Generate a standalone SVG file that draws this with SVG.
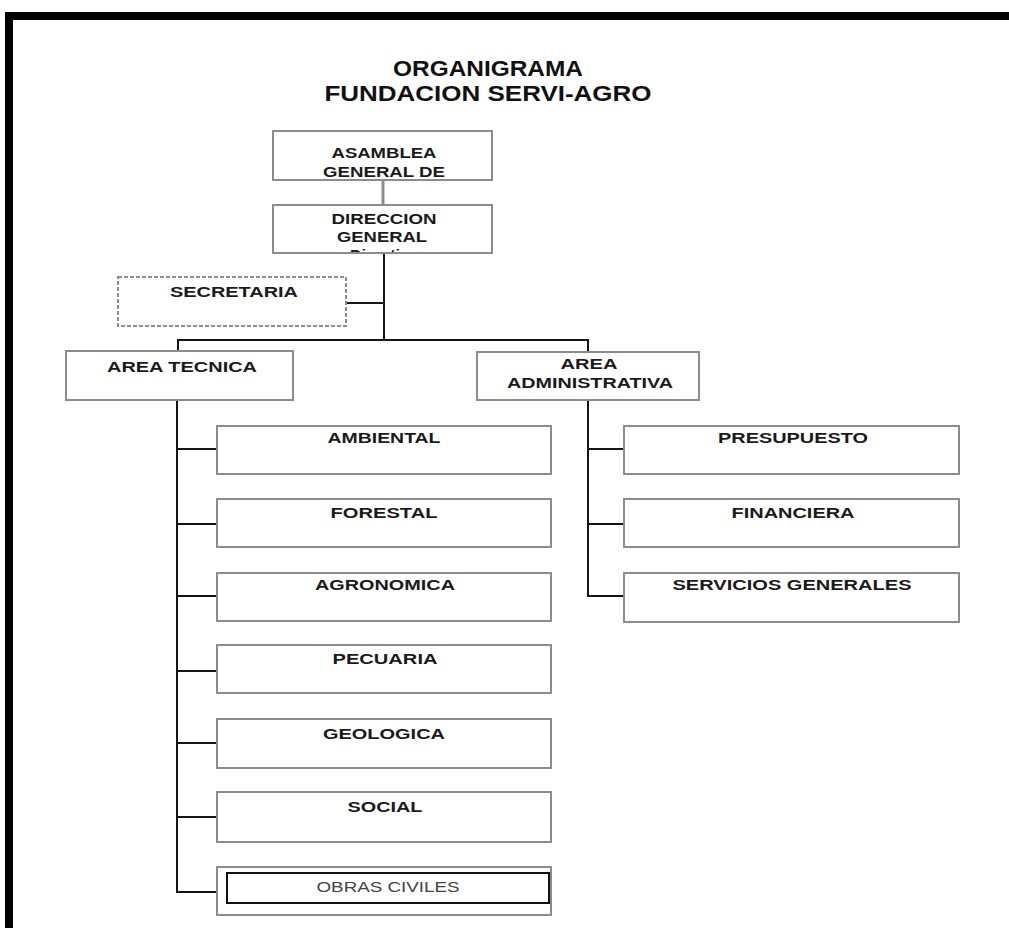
<svg xmlns="http://www.w3.org/2000/svg" width="1009" height="928" viewBox="0 0 1009 928">
<style>
.box{fill:#fff;stroke:#8c8c8c;stroke-width:2}
.dash{fill:#fff;stroke:#8c8c8c;stroke-width:2;stroke-dasharray:4 2}
.inner{fill:none;stroke:#111;stroke-width:2}
.conn{fill:none;stroke:#151515;stroke-width:2}
.lbl{font-family:"Liberation Sans",Arial,sans-serif;font-size:14.5px;font-weight:bold;fill:#1a1a1a;text-anchor:middle}
.title{font-family:"Liberation Sans",Arial,sans-serif;font-size:22px;font-weight:bold;fill:#111;text-anchor:middle}
</style>
<defs>
<clipPath id="clipA"><rect x="274" y="132" width="217" height="48"/></clipPath>
<clipPath id="clipD"><rect x="274" y="206" width="217" height="46"/></clipPath>
</defs>
<rect width="1009" height="928" fill="#fff"/>
<path d="M9 930 V16 H1012" fill="none" stroke="#000" stroke-width="8"/>
<g id="title">
<text class="title" x="488" y="76" textLength="190" lengthAdjust="spacingAndGlyphs">ORGANIGRAMA</text>
<text class="title" x="488" y="101" textLength="327" lengthAdjust="spacingAndGlyphs">FUNDACION SERVI-AGRO</text>
</g>
<g id="connectors">
<line x1="383" y1="181" x2="383" y2="205" stroke="#8c8c8c" stroke-width="3"/>
<path class="conn" d="M384 253 V340"/>
<path class="conn" d="M346 303 H384"/>
<path class="conn" d="M178 351 V340 H588 V352"/>
<path class="conn" d="M177 400 V892 H217"/>
<path class="conn" d="M177 449 H217 M177 524 H217 M177 596 H217 M177 671 H217 M177 743 H217 M177 817 H217"/>
<path class="conn" d="M588 400 V596 H624 M588 449 H624 M588 524 H624"/>
</g>
<g id="asamblea">
<rect class="box" x="273" y="131" width="219" height="49"/>
<g clip-path="url(#clipA)">
<text class="lbl" x="384" y="158" textLength="105" lengthAdjust="spacingAndGlyphs">ASAMBLEA</text>
<text class="lbl" x="384" y="177" textLength="122" lengthAdjust="spacingAndGlyphs">GENERAL DE</text>
<text class="lbl" x="384" y="196" textLength="70" lengthAdjust="spacingAndGlyphs">SOCIOS</text>
</g>
</g>
<g id="direccion">
<rect class="box" x="273" y="205" width="219" height="48"/>
<g clip-path="url(#clipD)">
<text class="lbl" x="384" y="224" textLength="105" lengthAdjust="spacingAndGlyphs">DIRECCION</text>
<text class="lbl" x="382" y="242" textLength="90" lengthAdjust="spacingAndGlyphs">GENERAL</text>
<text class="lbl" x="384" y="260" textLength="68" lengthAdjust="spacingAndGlyphs">Directiva</text>
</g>
</g>
<g id="secretaria">
<rect class="dash" x="118" y="277" width="228" height="49"/>
<text class="lbl" x="234" y="297" textLength="128" lengthAdjust="spacingAndGlyphs">SECRETARIA</text>
</g>
<g id="area-tecnica">
<rect class="box" x="66" y="351" width="227" height="49"/>
<text class="lbl" x="182" y="372" textLength="150" lengthAdjust="spacingAndGlyphs">AREA TECNICA</text>
</g>
<g id="area-administrativa">
<rect class="box" x="477" y="352" width="222" height="48"/>
<text class="lbl" x="589" y="369" textLength="57" lengthAdjust="spacingAndGlyphs">AREA</text>
<text class="lbl" x="590" y="388" textLength="166" lengthAdjust="spacingAndGlyphs">ADMINISTRATIVA</text>
</g>
<g id="ambiental">
<rect class="box" x="217" y="426" width="334" height="48"/>
<text class="lbl" x="384" y="443" textLength="113" lengthAdjust="spacingAndGlyphs">AMBIENTAL</text>
</g>
<g id="forestal">
<rect class="box" x="217" y="499" width="334" height="48"/>
<text class="lbl" x="384" y="518" textLength="107" lengthAdjust="spacingAndGlyphs">FORESTAL</text>
</g>
<g id="agronomica">
<rect class="box" x="217" y="573" width="334" height="48"/>
<text class="lbl" x="385" y="590" textLength="140" lengthAdjust="spacingAndGlyphs">AGRONOMICA</text>
</g>
<g id="pecuaria">
<rect class="box" x="217" y="645" width="334" height="48"/>
<text class="lbl" x="385" y="664" textLength="105" lengthAdjust="spacingAndGlyphs">PECUARIA</text>
</g>
<g id="geologica">
<rect class="box" x="217" y="719" width="334" height="49"/>
<text class="lbl" x="384" y="739" textLength="122" lengthAdjust="spacingAndGlyphs">GEOLOGICA</text>
</g>
<g id="social">
<rect class="box" x="217" y="792" width="334" height="50"/>
<text class="lbl" x="385" y="812" textLength="75" lengthAdjust="spacingAndGlyphs">SOCIAL</text>
</g>
<g id="obras-civiles">
<rect class="box" x="217" y="867" width="334" height="48"/>
<rect class="inner" x="227" y="873" width="322" height="30"/>
<text class="lbl" x="388" y="892" textLength="143" lengthAdjust="spacingAndGlyphs" style="fill:#444;font-weight:normal">OBRAS CIVILES</text>
</g>
<g id="presupuesto">
<rect class="box" x="624" y="426" width="335" height="48"/>
<text class="lbl" x="793" y="443" textLength="150" lengthAdjust="spacingAndGlyphs">PRESUPUESTO</text>
</g>
<g id="financiera">
<rect class="box" x="624" y="499" width="335" height="48"/>
<text class="lbl" x="793" y="518" textLength="123" lengthAdjust="spacingAndGlyphs">FINANCIERA</text>
</g>
<g id="servicios-generales">
<rect class="box" x="624" y="573" width="335" height="49"/>
<text class="lbl" x="792" y="590" textLength="239" lengthAdjust="spacingAndGlyphs">SERVICIOS GENERALES</text>
</g>
</svg>
